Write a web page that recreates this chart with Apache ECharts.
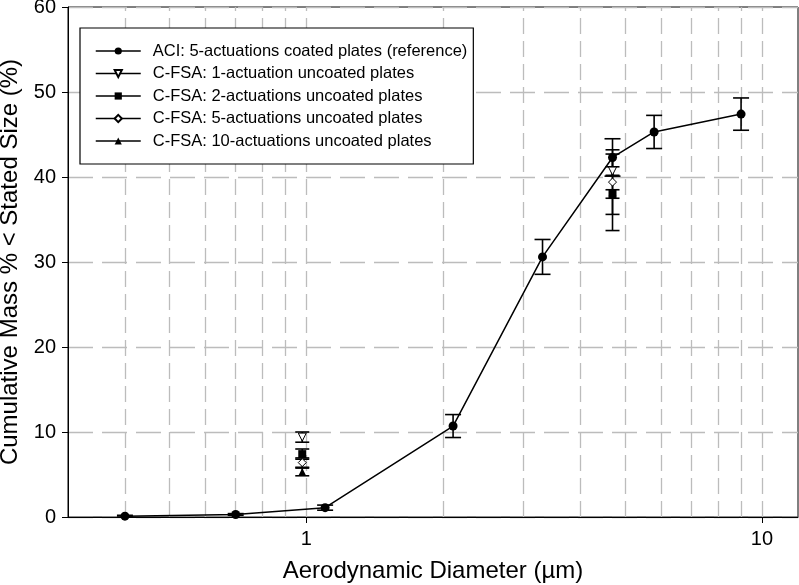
<!DOCTYPE html>
<html><head><meta charset="utf-8">
<script src="https://cdn.jsdelivr.net/npm/echarts@6/dist/echarts.min.js"></script>
<style>html,body{margin:0;padding:0;background:#fff}#c{width:799px;height:585px}</style>
</head><body><div id="c"></div>
<script>
// ---- data ----
const seriesNames = [
  'ACI: 5-actuations coated plates (reference)',
  'C-FSA: 1-actuation uncoated plates',
  'C-FSA: 2-actuations uncoated plates',
  'C-FSA: 5-actuations uncoated plates',
  'C-FSA: 10-actuations uncoated plates'
];
const aciX = [0.4, 0.7, 1.1, 2.1, 3.3, 4.7, 5.8, 9.0];
const aciY = [0.1, 0.3, 1.1, 10.7, 30.6, 42.3, 45.3, 47.4];
const aciErr = [0.1, 0.1, 0.3, 1.35, 2.05, 2.2, 1.95, 1.9];

const fsaX = [0.98, 4.7];
const fsa1Y = [9.4, 40.7];   const fsa1Err = [0.6, 0.5];
const fsa2Y = [7.4, 38.0];   const fsa2Err = [0.6, 0.5];
const fsa5Y = [6.4, 39.4];   const fsa5Err = [0.55, 3.8];
const fsa10Y = [5.3, 38.2];  const fsa10Err = [0.45, 4.5];

const xTickLabels = [1, 10];
const xGridValues = [0.4, 0.5, 0.6, 0.7, 0.8, 0.9, 1, 2, 3, 4, 5, 6, 7, 8, 9, 10];

// ---- chart ----
const FONT = '"Liberation Sans", Arial, Helvetica, sans-serif';
const chart = echarts.init(document.getElementById('c'), null, {renderer: 'canvas'});

function pairs(xs, ys) { return xs.map((x, i) => [x, ys[i]]); }
function errData(xs, ys, es) { return xs.map((x, i) => [x, ys[i] - es[i], ys[i] + es[i]]); }

function errSeries(data, cap) {
  return {
    type: 'custom', silent: true, z: 2, data: data,
    encode: {x: 0, y: [1, 2]},
    renderItem: function (params, api) {
      const x = api.value(0), lo = api.value(1), hi = api.value(2);
      const a = api.coord([x, lo]), b = api.coord([x, hi]);
      const st = {stroke: '#000', lineWidth: 1.6};
      return {type: 'group', children: [
        {type: 'line', shape: {x1: a[0], y1: a[1], x2: b[0], y2: b[1]}, style: st},
        {type: 'line', shape: {x1: a[0] - cap, y1: a[1], x2: a[0] + cap, y2: a[1]}, style: st},
        {type: 'line', shape: {x1: b[0] - cap, y1: b[1], x2: b[0] + cap, y2: b[1]}, style: st}
      ]};
    }
  };
}

function fsaSeries(name, ys, symbol, rotate, open) {
  return {
    name: name, type: 'line', data: pairs(fsaX, ys), z: 3,
    symbol: symbol, symbolSize: 8, symbolRotate: rotate,
    lineStyle: {width: 0, opacity: 0},
    itemStyle: open ? {color: '#fff', borderColor: '#000', borderWidth: 1} : {color: '#000', borderColor: '#000', borderWidth: 0},
    emphasis: {disabled: true}
  };
}

const option = {
  backgroundColor: '#fff',
  animation: false,
  grid: {left: 68, right: 1, top: 7, bottom: 68, show: true, borderColor: '#000', borderWidth: 1, outerBoundsMode: 'none'},
  legend: {
    orient: 'vertical', left: 80, top: 28, data: seriesNames, selectedMode: false,
    itemWidth: 45, itemHeight: 9, itemGap: 4.5, padding: [14, 6, 14, 15],
    borderColor: '#000', borderWidth: 1.2, backgroundColor: '#fff', borderRadius: 0,
    textStyle: {fontFamily: FONT, fontSize: 16.5, color: '#000', lineHeight: 18, padding: [0, 0, 0, 7]},
    lineStyle: {color: '#000', width: 1.5, opacity: 1}
  },
  xAxis: {
    type: 'log', logBase: 10, min: 0.3, max: 12,
    name: 'Aerodynamic Diameter (µm)', nameLocation: 'middle', nameGap: 42,
    nameTextStyle: {fontFamily: FONT, fontSize: 24, color: '#000'},
    axisLine: {show: true, lineStyle: {color: '#000', width: 1}},
    axisTick: {show: true, inside: false, length: 6, lineStyle: {color: '#000'}},
    axisLabel: {fontFamily: FONT, fontSize: 20, color: '#000', margin: 12, showMinLabel: false, showMaxLabel: false,
      formatter: function (v) { return xTickLabels.indexOf(Math.round(v * 1000) / 1000) >= 0 ? String(Math.round(v)) : ''; }},
    splitLine: {show: false}, minorTick: {show: false}
  },
  yAxis: {
    type: 'value', min: 0, max: 60, interval: 10,
    name: 'Cumulative Mass % < Stated Size (%)', nameLocation: 'middle', nameGap: 41,
    nameTextStyle: {fontFamily: FONT, fontSize: 24, color: '#000'},
    axisLine: {show: true, lineStyle: {color: '#000', width: 1}},
    axisTick: {show: true, inside: false, length: 6, lineStyle: {color: '#000'}},
    axisLabel: {fontFamily: FONT, fontSize: 20, color: '#000', margin: 12},
    splitLine: {show: true, lineStyle: {color: '#bcbcbc', width: 1.3, type: [25, 9]}}
  },
  series: [
    {
      type: 'line', data: [], silent: true, symbol: 'none',
      markLine: {
        silent: true, z: 1, symbol: ['none', 'none'], label: {show: false}, animation: false,
        lineStyle: {color: '#bcbcbc', width: 1.3, type: [16, 7]},
        emphasis: {disabled: true},
        data: xGridValues.map(v => ({xAxis: v}))
      }
    },
    errSeries(errData(aciX, aciY, aciErr), 8),
    errSeries(errData(fsaX, fsa1Y, fsa1Err), 7),
    errSeries(errData(fsaX, fsa2Y, fsa2Err), 7),
    errSeries(errData(fsaX, fsa5Y, fsa5Err), 7),
    errSeries(errData(fsaX, fsa10Y, fsa10Err), 7),
    {
      name: seriesNames[0], type: 'line', data: pairs(aciX, aciY), z: 3,
      symbol: 'circle', symbolSize: 9, smooth: false,
      lineStyle: {color: '#000', width: 1.5},
      itemStyle: {color: '#000', borderColor: '#000', borderWidth: 0},
      emphasis: {disabled: true}
    },
    fsaSeries(seriesNames[1], fsa1Y, 'triangle', 180, true),
    fsaSeries(seriesNames[2], fsa2Y, 'rect', 0, false),
    fsaSeries(seriesNames[3], fsa5Y, 'diamond', 0, true),
    fsaSeries(seriesNames[4], fsa10Y, 'triangle', 0, false)
  ]
};
chart.setOption(option);
</script>
</body></html>
